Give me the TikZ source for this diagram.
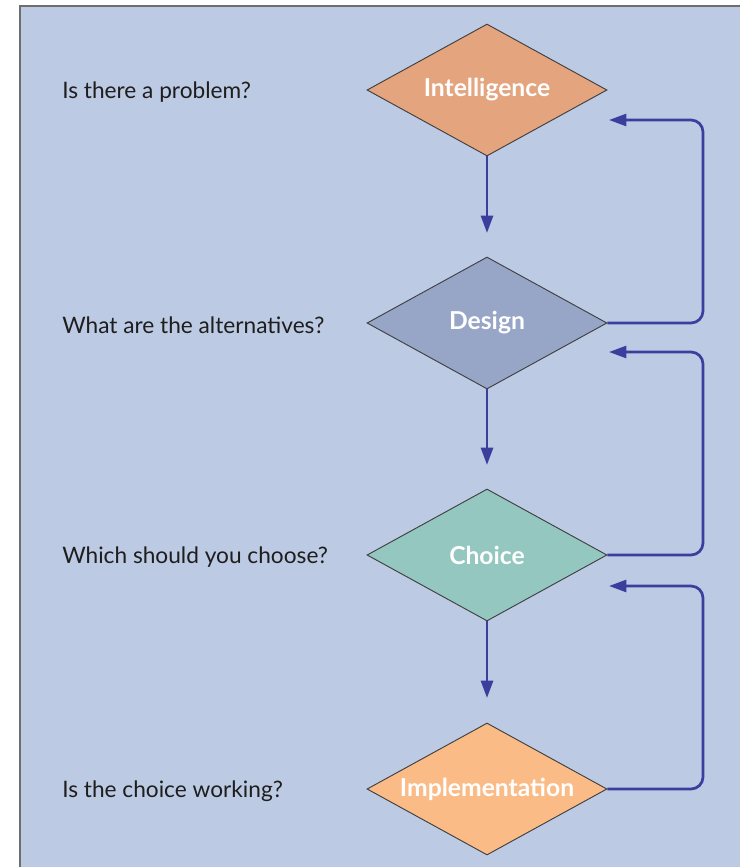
\documentclass[tikz,border=0pt]{standalone}
\usepackage{fontspec}
\setmainfont{Lato}
\usetikzlibrary{shapes.geometric,arrows.meta}
\definecolor{bgblue}{HTML}{BCCAE3}
\definecolor{intel}{HTML}{E3A47E}
\definecolor{design}{HTML}{97A5C7}
\definecolor{choice}{HTML}{94C7BF}
\definecolor{impl}{HTML}{FABB87}
\definecolor{arrowc}{HTML}{3D3D9E}
\definecolor{framec}{HTML}{6E6E6E}
\definecolor{textc}{HTML}{1E1E1E}
\newcommand{\zw}[1]{\makebox[0pt]{#1}}
\tikzset{
  phase/.style={diamond, draw=black!75, line width=0.7pt, inner sep=0pt,
    minimum width=180pt, minimum height=99pt,
    text=white, font=\fontsize{18.5}{22}\selectfont\bfseries},
  question/.style={anchor=west, inner sep=0pt, text=textc,
    font=\fontsize{17}{20}\selectfont},
  flow/.style={draw=arrowc, line width=2pt,
    -{Triangle[length=13pt,width=9pt]}},
  loop/.style={flow, rounded corners=9pt}
}
\begin{document}
\begin{tikzpicture}[x=0.75pt,y=-0.75pt]
\useasboundingbox (0,0) rectangle (740,867);
\fill[white] (0,0) rectangle (740,867);
\fill[bgblue] (20,6) rectangle (740,867);
\draw[framec, line width=1.5pt] (20,867) -- (20,6) -- (740,6);

\node[phase, fill=intel] (intel) at (487,90) {\zw{Intelligence}};
\node[phase, fill=design] (design) at (487,323) {\zw{Design}};
\node[phase, fill=choice] (choice) at (487,555) {\zw{Choice}};
\node[phase, fill=impl] (impl) at (487,789) {\zw{Implementation}};

\node[question] (q1) at (62,92) {Is there a problem?};
\node[question] (q2) at (62,325) {What are the alternatives?};
\node[question] (q3) at (62,557) {Which should you choose?};
\node[question] (q4) at (62,791) {Is the choice working?};

\coordinate (d1) at (487,233);
\coordinate (d2) at (487,465);
\coordinate (d3) at (487,698);
\draw[flow] (intel.south) -- (d1);
\draw[flow] (design.south) -- (d2);
\draw[flow] (choice.south) -- (d3);

\coordinate (f1) at (609,120);
\coordinate (f2) at (609,352);
\coordinate (f3) at (609,586);
\draw[loop] (design.east) -- (703,323) -- (703,120) -- (f1);
\draw[loop] (choice.east) -- (703,555) -- (703,352) -- (f2);
\draw[loop] (impl.east) -- (703,789) -- (703,586) -- (f3);
\end{tikzpicture}
\end{document}
